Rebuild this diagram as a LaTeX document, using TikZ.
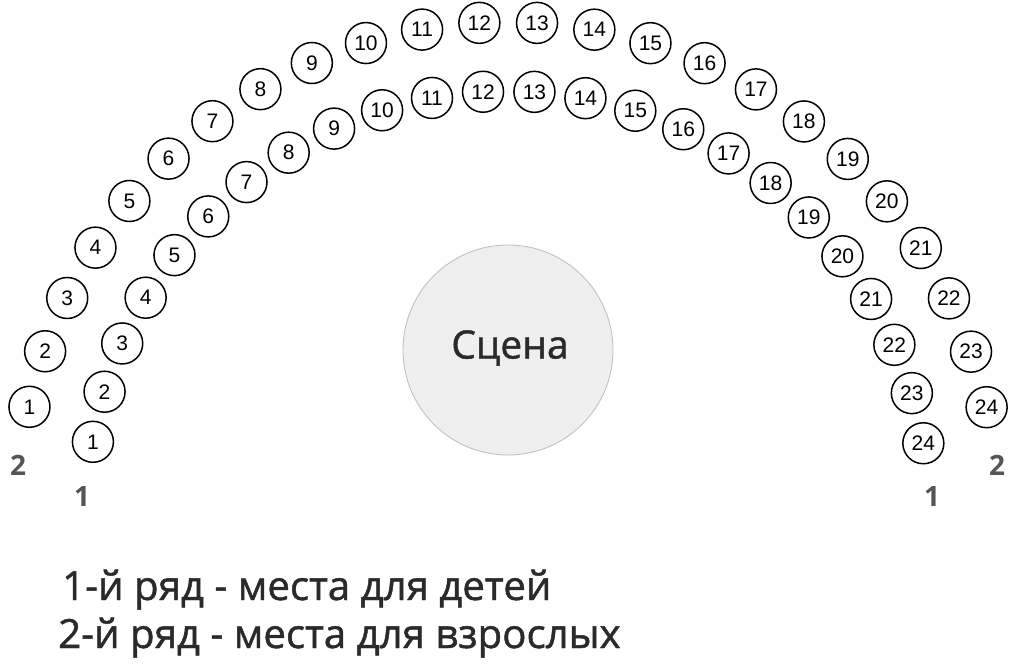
\documentclass[tikz,border=0pt]{standalone}
\usepackage{fontspec}
\setmainfont{Open Sans}
\newfontfamily\semib{Open Sans}[FakeBold=1.2]
\newfontfamily\seatfont{Liberation Sans}
\usepackage{tikz}
\usetikzlibrary{calc}

\definecolor{stagefill}{HTML}{EFEFEF}
\definecolor{stageline}{HTML}{BDBDBD}
\definecolor{rowgray}{HTML}{555555}
\definecolor{textdark}{HTML}{2A2A2A}

\begin{document}
\begin{tikzpicture}[x=1pt,y=1pt,
		seat/.style={draw, circle, line width=1.5pt, minimum size=41pt, inner sep=0pt, font=\seatfont\fontsize{21}{21}\selectfont},
		rowlabel/.style={text=rowgray, font=\bfseries\fontsize{28}{28}\selectfont},
		legend/.style={anchor=base west, inner sep=0pt, text=textdark, font=\semib\fontsize{40.2}{40.2}\selectfont}]
			\useasboundingbox[fill=white] (0,0) rectangle (1024,664);
			\coordinate (c) at (508,152);
			% stage
			\node[circle, fill=stagefill, draw=stageline, line width=0.8pt, minimum size=210pt] (stage) at (508,314) {};
			\node[font=\semib\fontsize{39}{39}\selectfont, text=textdark] (stagename) at (510,316) {Сцена};
			% row 2 (adults)
			\foreach \i in {1,...,24}
				\node[seat] (r2s\i) at ($(c)+({167.6-(\i-1)*6.75}:490)$) {\i};
			% row 1 (children)
			\foreach \i in {1,...,24}
				\node[seat] (r1s\i) at ($(c)+({170.4-(\i-1)*7}:421)$) {\i};
			% row numbers
			\node[rowlabel] (lab2l) at (18,199) {2};
			\node[rowlabel] (lab1l) at (82,167) {1};
			\node[rowlabel] (lab1r) at (932,167) {1};
			\node[rowlabel] (lab2r) at (997,199) {2};
			% legend
			\node[legend] (leg1) at (62,64) {1-й ряд - места для детей};
			\node[legend] (leg2) at (58,16) {2-й ряд - места для взрослых};
		\end{tikzpicture}
\end{document}
